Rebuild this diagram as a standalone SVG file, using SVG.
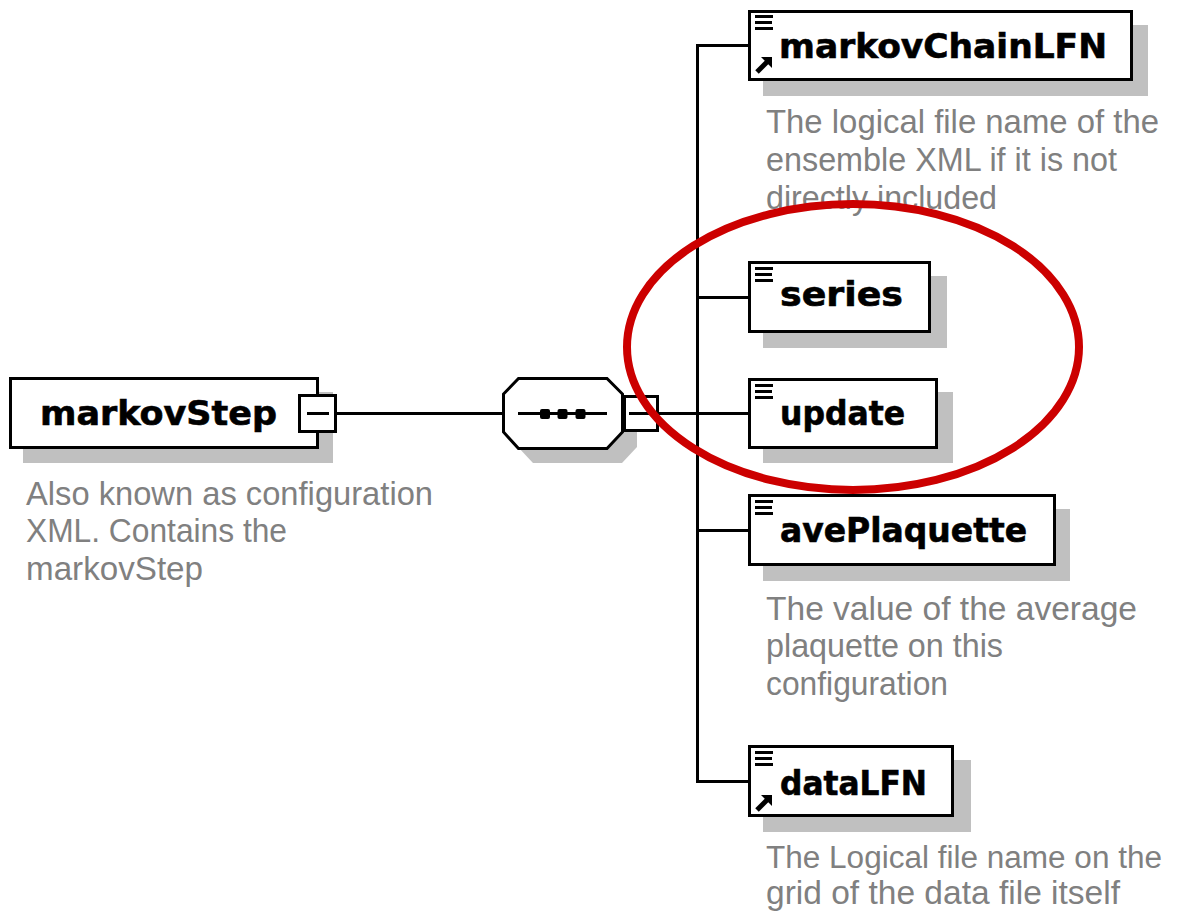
<svg xmlns="http://www.w3.org/2000/svg" width="1180" height="912" viewBox="0 0 1180 912">
  <style>
    .shadow { fill: #c0c0c0; stroke: none; }
    .box { fill: #ffffff; stroke: #000000; stroke-width: 3; }
    .wire { stroke: #000000; stroke-width: 3; fill: none; }
    .name { font-family: "DejaVu Sans", "Liberation Sans", sans-serif; font-weight: bold; font-size: 33px; fill: #000000; stroke: #000000; stroke-width: 0.6; }
    .doc { font-family: "Liberation Sans", "DejaVu Sans", sans-serif; font-size: 34px; fill: #808080; }
    .doc.tight { font-size: 31px; }
    .icon { fill: #000000; }
    .crisp { shape-rendering: crispEdges; }
  </style>
  <defs>
    <!-- "has content" marker: three short bars -->
    <g id="bars" class="crisp">
      <rect class="icon" x="0" y="0" width="18" height="3"/>
      <rect class="icon" x="0" y="6" width="17" height="3"/>
      <rect class="icon" x="0" y="12" width="18" height="3"/>
    </g>
    <!-- reference marker: small up-right arrow -->
    <g id="ref">
      <path class="icon" d="M6 0 H17 V11 Z"/>
      <path d="M2 15 L12 5" stroke="#000" stroke-width="5"/>
    </g>
  </defs>

  <!-- connectors -->
  <g id="connectors" class="crisp">
    <line class="wire" x1="336" y1="413.5" x2="503" y2="413.5"/>
    <line class="wire" x1="657" y1="413.5" x2="749" y2="413.5"/>
    <line class="wire" x1="697.5" y1="44" x2="697.5" y2="783"/>
    <line class="wire" x1="697" y1="45.5" x2="749" y2="45.5"/>
    <line class="wire" x1="697" y1="297.5" x2="749" y2="297.5"/>
    <line class="wire" x1="697" y1="530.5" x2="749" y2="530.5"/>
    <line class="wire" x1="697" y1="781.5" x2="749" y2="781.5"/>
  </g>

  <!-- root element -->
  <g id="markovStep">
    <rect class="shadow crisp" x="23" y="392" width="310" height="71"/>
    <rect class="box crisp" x="10.5" y="378.5" width="307" height="69"/>
    <text class="name" x="40" y="425" textLength="237" lengthAdjust="spacingAndGlyphs">markovStep</text>
    <rect class="box crisp" x="299.5" y="395.5" width="36" height="36"/>
    <line class="wire crisp" x1="307" y1="413.5" x2="329" y2="413.5"/>
    <text class="doc" x="26" y="505" textLength="407" lengthAdjust="spacingAndGlyphs">Also known as configuration</text>
    <text class="doc" x="26" y="542" textLength="261" lengthAdjust="spacingAndGlyphs">XML. Contains the</text>
    <text class="doc" x="26" y="580" textLength="177" lengthAdjust="spacingAndGlyphs">markovStep</text>
  </g>

  <!-- sequence compositor -->
  <g id="sequence">
    <path class="shadow" d="M533 393 H622 L637 409 V447 L622 463 H533 L518 447 V409 Z"/>
    <path class="box" d="M518.5 378.5 H607 L622.5 394 V432 L607 448.5 H518.5 L503.5 432 V394 Z"/>
    <line class="wire crisp" x1="518" y1="413.5" x2="607" y2="413.5"/>
    <rect class="icon" x="540" y="409" width="10" height="10" rx="2"/>
    <rect class="icon" x="557.5" y="409" width="10" height="10" rx="2"/>
    <rect class="icon" x="575.5" y="409" width="10" height="10" rx="2"/>
    <rect class="box crisp" x="624.5" y="396.5" width="33" height="34"/>
    <line class="wire crisp" x1="629" y1="413.5" x2="657" y2="413.5"/>
  </g>

  <!-- child: markovChainLFN -->
  <g id="markovChainLFN">
    <rect class="shadow crisp" x="763" y="25" width="385" height="71"/>
    <rect class="box crisp" x="749.5" y="11.5" width="382" height="68"/>
    <use href="#bars" x="755" y="15"/>
    <use href="#ref" x="755" y="57"/>
    <text class="name" x="779" y="58" textLength="328" lengthAdjust="spacingAndGlyphs">markovChainLFN</text>
    <text class="doc" x="766" y="133" textLength="393" lengthAdjust="spacingAndGlyphs">The logical file name of the</text>
    <text class="doc" x="766" y="171" textLength="351" lengthAdjust="spacingAndGlyphs">ensemble XML if it is not</text>
    <text class="doc" x="766" y="209" textLength="231" lengthAdjust="spacingAndGlyphs">directly included</text>
  </g>

  <!-- child: series -->
  <g id="series">
    <rect class="shadow crisp" x="763" y="276" width="184" height="72"/>
    <rect class="box crisp" x="749.5" y="262.5" width="180" height="69"/>
    <use href="#bars" x="755" y="267"/>
    <text class="name" x="780" y="306" textLength="123" lengthAdjust="spacingAndGlyphs">series</text>
  </g>

  <!-- child: update -->
  <g id="update">
    <rect class="shadow crisp" x="763" y="392" width="190" height="71"/>
    <rect class="box crisp" x="749.5" y="379.5" width="187" height="68"/>
    <use href="#bars" x="755" y="384"/>
    <text class="name" x="780" y="425" textLength="125" lengthAdjust="spacingAndGlyphs">update</text>
  </g>

  <!-- child: avePlaquette -->
  <g id="avePlaquette">
    <rect class="shadow crisp" x="763" y="509" width="307" height="72"/>
    <rect class="box crisp" x="749.5" y="495.5" width="305" height="69"/>
    <use href="#bars" x="755" y="500"/>
    <text class="name" x="780" y="542" textLength="247" lengthAdjust="spacingAndGlyphs">avePlaquette</text>
    <text class="doc" x="766" y="620" textLength="371" lengthAdjust="spacingAndGlyphs">The value of the average</text>
    <text class="doc" x="766" y="657" textLength="237" lengthAdjust="spacingAndGlyphs">plaquette on this</text>
    <text class="doc" x="766" y="695" textLength="182" lengthAdjust="spacingAndGlyphs">configuration</text>
  </g>

  <!-- child: dataLFN -->
  <g id="dataLFN">
    <rect class="shadow crisp" x="763" y="760" width="208" height="72"/>
    <rect class="box crisp" x="749.5" y="746.5" width="203" height="69"/>
    <use href="#bars" x="755" y="751"/>
    <use href="#ref" x="755" y="795"/>
    <text class="name" x="780" y="795" textLength="147" lengthAdjust="spacingAndGlyphs">dataLFN</text>
    <text class="doc tight" x="766" y="868" textLength="396" lengthAdjust="spacingAndGlyphs">The Logical file name on the</text>
    <text class="doc" x="766" y="904" textLength="354" lengthAdjust="spacingAndGlyphs">grid of the data file itself</text>
  </g>

  <!-- highlight ring around series and update -->
  <ellipse id="highlight" cx="853" cy="347" rx="226" ry="143" fill="none" stroke="#cc0000" stroke-width="8"/>
</svg>
